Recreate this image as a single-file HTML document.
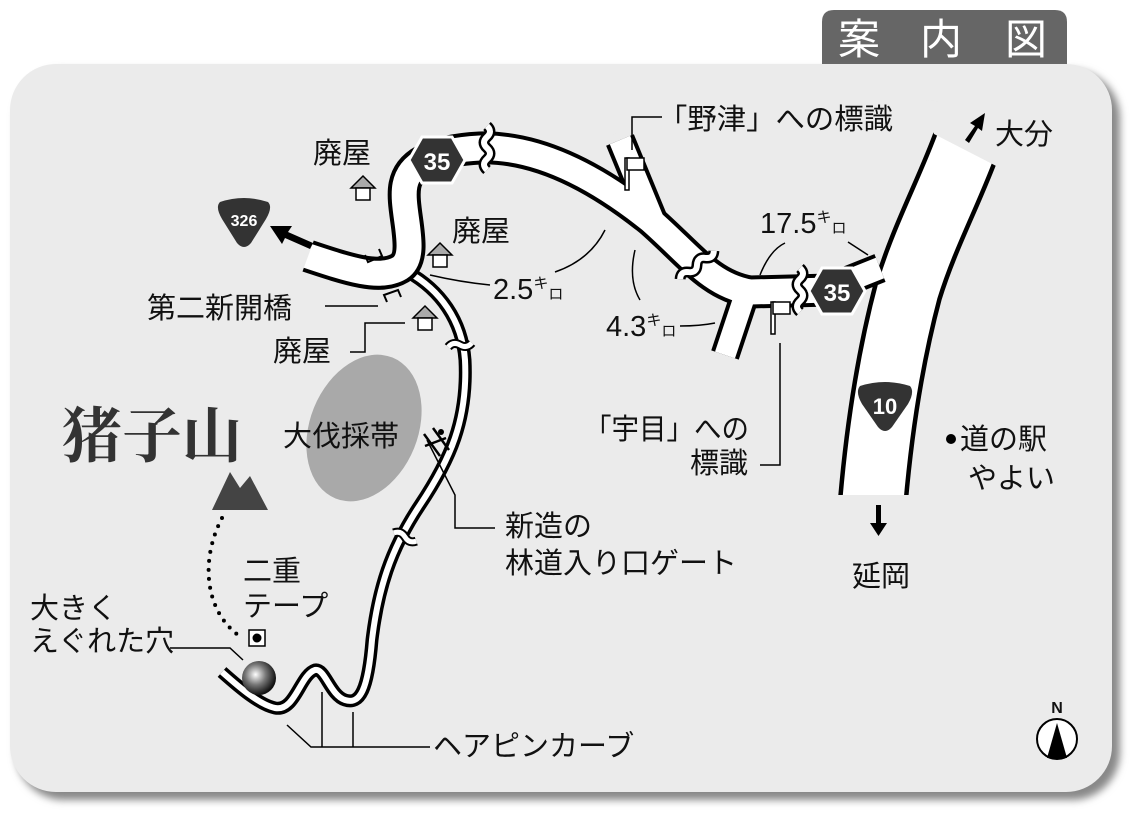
<!DOCTYPE html>
<html><head><meta charset="utf-8"><style>
html,body{margin:0;padding:0;background:#fff;width:1140px;height:822px;overflow:hidden}
svg{display:block}
text{font-family:"Liberation Sans","Noto Sans CJK JP",sans-serif;fill:#111}
</style></head><body>
<svg width="1140" height="822" viewBox="0 0 1140 822">
<defs>
<filter id="sh" x="-5%" y="-5%" width="115%" height="115%"><feGaussianBlur stdDeviation="4"/></filter>
<radialGradient id="ball" cx="40%" cy="40%" r="60%"><stop offset="0" stop-color="#fff"/><stop offset="0.5" stop-color="#777"/><stop offset="1" stop-color="#111"/></radialGradient>
<g id="brk"><path d="M0 -22 q6 5.5 0 11 q-6 5.5 0 11 q6 5.5 0 11 q-6 5.5 0 11" stroke="#000" stroke-width="11" fill="none"/><path d="M0 -22 q6 5.5 0 11 q-6 5.5 0 11 q6 5.5 0 11 q-6 5.5 0 11" stroke="#fff" stroke-width="6" fill="none"/></g>
<g id="brks"><path d="M-12 0 q6 -5 12 0 q6 5 12 0" stroke="#000" stroke-width="9" fill="none"/><path d="M-12 0 q6 -5 12 0 q6 5 12 0" stroke="#fff" stroke-width="5" fill="none"/></g>
</defs>
<!-- title tab -->
<path d="M822 65 V22 Q822 10 834 10 H1055 Q1067 10 1067 22 V65 Z" fill="#666"/>
<text x="838" y="54" font-size="42" style="fill:#fff">案</text>
<text x="920" y="54" font-size="42" style="fill:#fff">内</text>
<text x="1005" y="54" font-size="42" style="fill:#fff">図</text>
<!-- panel -->
<rect x="16" y="70" width="1104" height="730" rx="48" fill="#888" filter="url(#sh)"/>
<rect x="10" y="64" width="1102" height="728" rx="46" fill="#ebebeb"/>

<!-- gray ellipse -->
<ellipse cx="364" cy="428" rx="54" ry="76" transform="rotate(22 364 428)" fill="#a9a9a9"/>

<!-- route 10 -->
<path d="M968 140 C950 190 925 235 908 290 C892 350 880 420 873 500" fill="none" stroke="#000" stroke-width="70"/>
<path d="M968 140 C950 190 925 235 908 290 C892 350 880 420 873 500" fill="none" stroke="#fff" stroke-width="61"/>
<rect x="820" y="495" width="120" height="25" fill="#ebebeb"/>
<polygon points="925,100 934,134 1004,170 1030,110" fill="#ebebeb"/>

<!-- thin road -->
<path d="M408 272 C440 290 462 320 465 360 C468 420 450 460 420 505 C390 550 378 590 372 640 C368 690 360 705 345 700 C330 695 325 668 315 670 C300 675 295 712 275 708 C260 705 240 688 222 672" fill="none" stroke="#000" stroke-width="13"/>
<path d="M408 272 C440 290 462 320 465 360 C468 420 450 460 420 505 C390 550 378 590 372 640 C368 690 360 705 345 700 C330 695 325 668 315 670 C300 675 295 712 275 708 C260 705 240 688 222 672" fill="none" stroke="#fff" stroke-width="6"/>

<!-- main upper road -->
<g fill="none" stroke-linejoin="round">
<path d="M305 255 C350 270 380 280 400 268 C420 255 400 210 405 185 C410 160 440 150 480 148 C540 146 600 180 650 220 C690 255 710 285 750 292 L830 290" stroke="#000" stroke-width="33"/>
<path d="M655 225 L620 140" stroke="#000" stroke-width="30"/>
<path d="M745 295 L725 355" stroke="#000" stroke-width="29"/>
<path d="M830 288 L880 268" stroke="#000" stroke-width="30"/>
<path d="M305 255 C350 270 380 280 400 268 C420 255 400 210 405 185 C410 160 440 150 480 148 C540 146 600 180 650 220 C690 255 710 285 750 292 L830 290" stroke="#fff" stroke-width="25"/>
<path d="M655 225 L620 140" stroke="#fff" stroke-width="22"/>
<path d="M745 295 L725 355" stroke="#fff" stroke-width="21"/>
<path d="M830 288 L880 268" stroke="#fff" stroke-width="22"/>
</g>
<rect x="292" y="225" width="16" height="60" fill="#ebebeb" transform="rotate(20 300 255)"/>
<rect x="600" y="115" width="50" height="14" fill="#ebebeb" transform="rotate(-22 625 122)"/>
<rect x="705" y="360" width="45" height="14" fill="#ebebeb" transform="rotate(18 727 367)"/>

<!-- breaks -->
<use href="#brk" transform="translate(487,148)"/>
<use href="#brk" transform="translate(697,265) rotate(50)"/>
<use href="#brk" transform="translate(800,290)"/>
<use href="#brks" transform="translate(460,345) rotate(-10)"/>
<use href="#brks" transform="translate(405,537) rotate(20)"/>

<!-- 326 shield -->
<path d="M220 202 Q244 194 268 202 Q273 207 266 219 L251 243 Q244 251 237 243 L222 219 Q215 207 220 202Z" fill="#333"/>
<text x="244" y="226" font-size="16" font-weight="bold" text-anchor="middle" style="fill:#fff">326</text>
<!-- 10 shield -->
<path d="M860 386 Q885 378 910 386 Q915 392 908 404 L892 427 Q885 435 878 427 L862 404 Q855 392 860 386Z" fill="#333"/>
<text x="885" y="414" font-size="22" font-weight="bold" text-anchor="middle" style="fill:#fff">10</text>
<!-- 35 hexagons -->
<polygon points="422,137 452,137 465,160 452,183 422,183 409,160" fill="#333" stroke="#fff" stroke-width="3"/>
<text x="437" y="170" font-size="24" font-weight="bold" text-anchor="middle" style="fill:#fff">35</text>
<polygon points="822,268 852,268 865,291 852,314 822,314 809,291" fill="#333" stroke="#fff" stroke-width="3"/>
<text x="837" y="301" font-size="24" font-weight="bold" text-anchor="middle" style="fill:#fff">35</text>

<!-- arrows -->
<g fill="#000">
<path d="M313 243 L288 232 L292 226 L270 226 L282 244 L285 238 L310 249Z"/>
<path d="M965 140 L975 126 L970 123 L985 113 L982 131 L978 128 L969 143Z"/>
<path d="M876 505 h5 v18 h6 l-8.5 13 l-8.5 -13 h6z"/>
</g>

<!-- houses -->
<g stroke="#000" stroke-width="1.5">
<g transform="translate(363,188)"><polygon points="-12,0 0,-12 12,0" fill="#aaa"/><rect x="-7" y="0" width="14" height="12" fill="#fff"/></g>
<g transform="translate(440,255)"><polygon points="-12,0 0,-12 12,0" fill="#aaa"/><rect x="-7" y="0" width="14" height="12" fill="#fff"/></g>
<g transform="translate(425,318)"><polygon points="-12,0 0,-12 12,0" fill="#aaa"/><rect x="-7" y="0" width="14" height="12" fill="#fff"/></g>
</g>
<!-- flags -->
<g stroke="#000" stroke-width="1.5" fill="#fff">
<rect x="625" y="158" width="4" height="32"/><rect x="627" y="158" width="17" height="12"/>
<rect x="771" y="302" width="4" height="32"/><rect x="773" y="302" width="17" height="12"/>
</g>
<!-- bridge marks -->
<g stroke="#000" stroke-width="2" fill="none">
<path d="M365 255 l3 7 l14 -6 l-3 -7"/>
<path d="M387 302 l-3 -7 l14 -5 l3 7"/>
</g>

<!-- leader lines -->
<g stroke="#000" stroke-width="1.5" fill="none">
<path d="M662 117 H632 V150"/>
<path d="M325 306 H378"/>
<path d="M350 352 H365 V323 H405"/>
<path d="M430 275 Q460 282 490 285"/>
<path d="M555 272 Q590 260 605 230"/>
<path d="M635 250 Q628 280 640 300"/>
<path d="M680 326 Q700 326 715 323"/>
<path d="M760 275 Q770 250 785 243"/>
<path d="M848 242 L868 255"/>
<path d="M780 343 V465 H760"/>
<path d="M427 440 L455 495 V528 H495"/>
<path d="M170 648 H230 L243 660"/>
<path d="M287 725 L311 747 H430"/>
<path d="M322 692 V747"/>
<path d="M353 712 V747"/>
</g>
<!-- gate -->
<g stroke="#000" stroke-width="2.5"><path d="M424 434 L440 456 M433 428 L449 450 M425 446 L446 438"/></g>
<circle cx="441" cy="432" r="3" fill="#000"/>

<!-- mountain -->
<path d="M212 510 L230 472 L240 488 L250 476 L268 510Z" fill="#444"/>
<!-- dotted trail -->
<path d="M222 518 C200 560 205 610 238 635" fill="none" stroke="#000" stroke-width="4" stroke-linecap="round" stroke-dasharray="0 9"/>
<rect x="249" y="630" width="16" height="16" fill="#fff" stroke="#000" stroke-width="1.5"/>
<circle cx="257" cy="638" r="4.5" fill="#000"/>
<circle cx="259" cy="678" r="17" fill="url(#ball)"/>
<circle cx="951" cy="439" r="5" fill="#000"/>
<!-- compass -->
<circle cx="1057" cy="739" r="20" fill="#fff" stroke="#000" stroke-width="2"/>
<path d="M1057 723 L1047 758 H1067Z" fill="#000"/>
<text x="1057" y="713" font-size="16" font-weight="bold" text-anchor="middle">N</text>

<!-- labels -->
<g font-size="29">
<text x="313" y="163">廃屋</text>
<text x="452" y="241">廃屋</text>
<text x="273" y="361">廃屋</text>
<text x="147" y="318">第二新開橋</text>
<text x="493" y="299">2.5<tspan font-size="15" dy="-11">キ</tspan><tspan font-size="15" dy="11">ロ</tspan></text>
<text x="606" y="336">4.3<tspan font-size="15" dy="-11">キ</tspan><tspan font-size="15" dy="11">ロ</tspan></text>
<text x="760" y="233">17.5<tspan font-size="15" dy="-11">キ</tspan><tspan font-size="15" dy="11">ロ</tspan></text>
<text x="658" y="129" textLength="235" lengthAdjust="spacingAndGlyphs">「野津」への標識</text>
<text x="995" y="144">大分</text>
<text x="584" y="439" textLength="165" lengthAdjust="spacingAndGlyphs">「宇目」への</text>
<text x="690" y="473">標識</text>
<text x="960" y="449">道の駅</text>
<text x="968" y="488">やよい</text>
<text x="852" y="586">延岡</text>
<text x="283" y="446">大伐採帯</text>
<text x="505" y="536">新造の</text>
<text x="505" y="573">林道入り口ゲート</text>
<text x="243" y="581">二重</text>
<text x="243" y="616">テープ</text>
<text x="30" y="618">大きく</text>
<text x="30" y="651">えぐれた穴</text>
<text x="433" y="756">ヘアピンカーブ</text>
</g>
<text x="62" y="457" font-size="60" font-weight="bold" style="fill:#333;font-family:'Liberation Serif','Noto Serif CJK SC',serif">猪子山</text>
</svg>
</body></html>
